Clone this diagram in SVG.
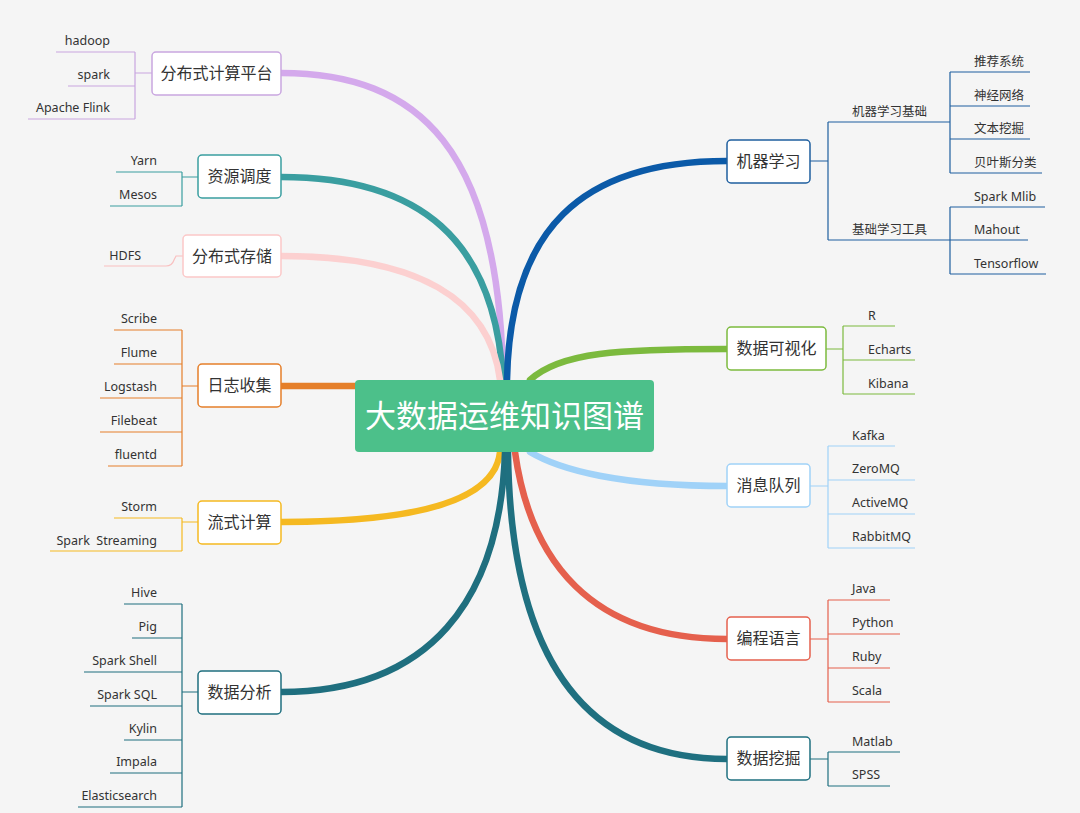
<svg xmlns="http://www.w3.org/2000/svg" width="1080" height="813" viewBox="0 0 1080 813">
<style>
.n{fill:#fff;stroke-width:1.5}
.nt{font-family:"Noto Sans CJK SC","Noto Sans",sans-serif;font-size:16px;fill:#333;text-anchor:middle}
.l{font-family:"Noto Sans","Noto Sans CJK SC",sans-serif;font-size:12.5px;fill:#333}
.r{text-anchor:end}
.b{fill:none;stroke-width:6.5;stroke-linecap:round}
.t{fill:none;stroke-width:1.2}
</style>
<rect width="1080" height="813" fill="#f5f5f5"/>
<g id="connectors">
<path class="b" stroke="#d4a9ec" d="M281 73 C420 73 500 150 503 380"/>
<path class="b" stroke="#3a9ea0" d="M281 177 C420 177 495 240 503 380"/>
<path class="b" stroke="#fcd0d0" d="M281 256 C420 256 490 300 500 380"/>
<path class="b" stroke="#e57f2a" d="M281 386 L356 386"/>
<path class="b" stroke="#f5b921" d="M281 522 C420 522 495 500 500 452"/>
<path class="b" stroke="#1f6f7f" d="M281 692 C430 692 500 600 505 452"/>
<path class="b" stroke="#0b5aa8" d="M727 161 C580 161 510 230 507 380"/>
<path class="b" stroke="#7cba3e" d="M727 349 C620 349 560 352 530 380"/>
<path class="b" stroke="#a0d2f8" d="M727 486 C620 486 560 470 530 452"/>
<path class="b" stroke="#e5604d" d="M727 639 C590 639 530 560 515 452"/>
<path class="b" stroke="#1f7080" d="M727 759 C560 759 510 620 508 452"/>
<path class="t" stroke="#c9a6e0" d="M56 52H135M68 86H135M28 119H135M135 52V119M135 73H152"/>
<path class="t" stroke="#3a9ea0" d="M116 172H182M110 206H182M182 172V206M182 177H198"/>
<path class="t" stroke="#f9c0c0" d="M104 266H166Q172 266 174 260L176 256H183"/>
<path class="t" stroke="#e57f2a" d="M114 330H182M114 364H182M100 398H182M100 432H182M108 466H182M182 330V466M182 386H198"/>
<path class="t" stroke="#f5b921" d="M114 518H182M50 551H182M182 518V551M182 522H198"/>
<path class="t" stroke="#1f6f7f" d="M124 604H182M132 638H182M84 672H182M90 706H182M124 740H182M110 773H182M78 807H182M182 604V807M182 692H198"/>
<path class="t" stroke="#1f5f9f" d="M810 161H828M828 122V240M828 122H950M828 240H950M950 72V173M950 72H1030M950 106H1030M950 139H1030M950 173H1042M950 207V274M950 207H1045M950 240H1028M950 274H1046"/>
<path class="t" stroke="#7cba3e" d="M826 349H843M843 326V394M843 326H895M843 360H915M843 394H915"/>
<path class="t" stroke="#a0d2f8" d="M810 486H828M828 446V548M828 446H895M828 480H915M828 514H915M828 548H915"/>
<path class="t" stroke="#e5604d" d="M810 639H828M828 600V702M828 600H890M828 634H900M828 668H890M828 702H890"/>
<path class="t" stroke="#1f7080" d="M810 759H828M828 752V786M828 752H900M828 786H890"/>
</g>
<g id="center"><rect x="355" y="380" width="299" height="72" rx="4" fill="#4cc08a"/><text x="504.500" y="427" font-family="Noto Sans CJK SC,sans-serif" font-size="31" fill="#fff" text-anchor="middle">大数据运维知识图谱</text></g>
<g id="n1"><rect class="n" x="152" y="52" width="129" height="43" rx="4" stroke="#c9a6e0"/><text class="nt" x="216.500" y="79">分布式计算平台</text>
<text class="l r" x="110" y="45">hadoop</text><text class="l r" x="110" y="79">spark</text><text class="l r" x="110" y="112">Apache Flink</text></g>
<g id="n2"><rect class="n" x="198" y="155" width="83" height="43" rx="4" stroke="#3a9ea0"/><text class="nt" x="239.500" y="182">资源调度</text>
<text class="l r" x="157" y="165">Yarn</text><text class="l r" x="157" y="199">Mesos</text></g>
<g id="n3"><rect class="n" x="183" y="235" width="98" height="42" rx="4" stroke="#fbc8c8"/><text class="nt" x="232" y="262">分布式存储</text>
<text class="l r" x="141" y="260">HDFS</text></g>
<g id="n4"><rect class="n" x="198" y="364" width="83" height="43" rx="4" stroke="#e57f2a"/><text class="nt" x="239.500" y="391">日志收集</text>
<text class="l r" x="157" y="323">Scribe</text><text class="l r" x="157" y="357">Flume</text><text class="l r" x="157" y="391">Logstash</text><text class="l r" x="157" y="425">Filebeat</text><text class="l r" x="157" y="459">fluentd</text></g>
<g id="n5"><rect class="n" x="198" y="501" width="83" height="43" rx="4" stroke="#f5b921"/><text class="nt" x="239.500" y="528">流式计算</text>
<text class="l r" x="157" y="511">Storm</text><text class="l r" x="157" y="545" xml:space="preserve">Spark  Streaming</text></g>
<g id="n6"><rect class="n" x="198" y="671" width="83" height="43" rx="4" stroke="#1f6f7f"/><text class="nt" x="239.500" y="698">数据分析</text>
<text class="l r" x="157" y="597">Hive</text><text class="l r" x="157" y="631">Pig</text><text class="l r" x="157" y="665">Spark Shell</text><text class="l r" x="157" y="699">Spark SQL</text><text class="l r" x="157" y="733">Kylin</text><text class="l r" x="157" y="766">Impala</text><text class="l r" x="157" y="800">Elasticsearch</text></g>
<g id="n7"><rect class="n" x="727" y="140" width="83" height="43" rx="4" stroke="#1f5f9f"/><text class="nt" x="768.500" y="167">机器学习</text>
<text class="l" x="852" y="116" font-size="12">机器学习基础</text><text class="l" x="852" y="234" font-size="12">基础学习工具</text>
<text class="l" x="974" y="66">推荐系统</text><text class="l" x="974" y="100">神经网络</text><text class="l" x="974" y="133">文本挖掘</text><text class="l" x="974" y="167">贝叶斯分类</text>
<text class="l" x="974" y="201">Spark Mlib</text><text class="l" x="974" y="234">Mahout</text><text class="l" x="974" y="268">Tensorflow</text></g>
<g id="n8"><rect class="n" x="727" y="327" width="99" height="43" rx="4" stroke="#7cba3e"/><text class="nt" x="776.500" y="354">数据可视化</text>
<text class="l" x="868" y="320">R</text><text class="l" x="868" y="354">Echarts</text><text class="l" x="868" y="388">Kibana</text></g>
<g id="n9"><rect class="n" x="727" y="464" width="83" height="43" rx="4" stroke="#a0d2f8"/><text class="nt" x="768.500" y="491">消息队列</text>
<text class="l" x="852" y="440">Kafka</text><text class="l" x="852" y="473">ZeroMQ</text><text class="l" x="852" y="507">ActiveMQ</text><text class="l" x="852" y="541">RabbitMQ</text></g>
<g id="n10"><rect class="n" x="727" y="617" width="83" height="43" rx="4" stroke="#e5604d"/><text class="nt" x="768.500" y="644">编程语言</text>
<text class="l" x="852" y="593">Java</text><text class="l" x="852" y="627">Python</text><text class="l" x="852" y="661">Ruby</text><text class="l" x="852" y="695">Scala</text></g>
<g id="n11"><rect class="n" x="727" y="737" width="83" height="43" rx="4" stroke="#1f7080"/><text class="nt" x="768.500" y="764">数据挖掘</text>
<text class="l" x="852" y="746">Matlab</text><text class="l" x="852" y="779">SPSS</text></g>
</svg>
